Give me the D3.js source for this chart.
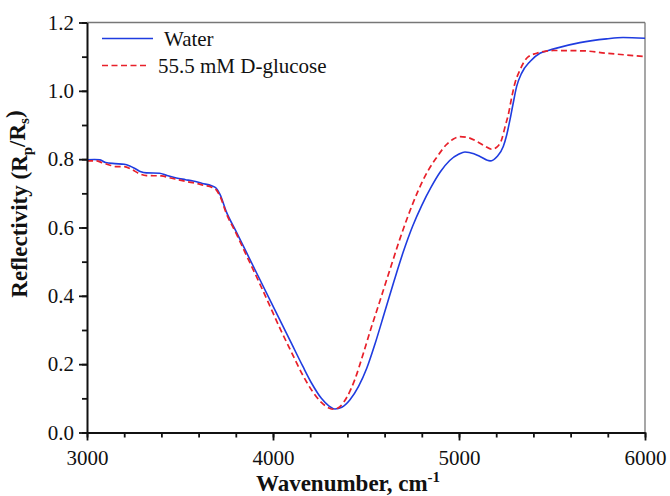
<!DOCTYPE html>
<html>
<head>
<meta charset="utf-8">
<script src="https://cdn.jsdelivr.net/npm/d3@7"></script>
<style>
  html, body { margin: 0; padding: 0; background: #fff; }
  svg { display: block; }
</style>
</head>
<body>
<svg id="chart" width="670" height="496"></svg>
<script>
// Reflectivity spectra, wavenumber (cm^-1) vs Rp/Rs
const waterWn = [3000,3040,3070,3100,3150,3200,3230,3260,3290,3320,3390,3430,3480,3530,3570,3620,3670,3695,3715,3750,3800,3860,3920,3980,4040,4100,4160,4210,4260,4300,4333,4370,4414,4460,4504,4550,4600,4650,4700,4750,4800,4850,4900,4950,5000,5032,5080,5113,5167,5205,5238,5256,5274,5290,5310,5337,5382,5435,5480,5525,5650,5793,5882,6000];
const waterR  = [0.798,0.799,0.798,0.790,0.787,0.785,0.780,0.772,0.763,0.760,0.759,0.752,0.745,0.740,0.736,0.729,0.722,0.715,0.697,0.645,0.590,0.524,0.458,0.392,0.326,0.260,0.194,0.142,0.100,0.078,0.069,0.074,0.096,0.135,0.188,0.262,0.352,0.442,0.528,0.603,0.665,0.718,0.763,0.796,0.815,0.821,0.816,0.808,0.795,0.808,0.837,0.870,0.915,0.960,1.013,1.052,1.086,1.110,1.118,1.125,1.141,1.152,1.156,1.154];

const glucoseWn = [3000,3050,3080,3120,3160,3200,3240,3280,3320,3400,3440,3490,3540,3580,3630,3670,3695,3715,3750,3800,3860,3920,3980,4040,4100,4160,4210,4260,4300,4325,4360,4400,4440,4486,4530,4567,4600,4640,4680,4720,4780,4830,4880,4933,4970,5005,5050,5095,5140,5176,5205,5229,5250,5265,5283,5301,5328,5350,5373,5418,5507,5668,5793,5900,6000];
const glucoseR  = [0.795,0.795,0.790,0.783,0.778,0.778,0.770,0.758,0.752,0.751,0.746,0.740,0.734,0.730,0.723,0.718,0.710,0.692,0.640,0.585,0.515,0.446,0.374,0.302,0.234,0.168,0.122,0.088,0.072,0.068,0.076,0.106,0.155,0.232,0.310,0.372,0.428,0.496,0.563,0.625,0.707,0.763,0.805,0.843,0.859,0.866,0.863,0.852,0.838,0.829,0.836,0.857,0.900,0.930,0.980,1.023,1.061,1.085,1.100,1.110,1.118,1.117,1.110,1.105,1.100];

const xTicks = [3000, 4000, 5000, 6000];
const yTicks = [0.0, 0.2, 0.4, 0.6, 0.8, 1.0, 1.2];
const seriesNames = ["Water", "55.5 mM D-glucose"];

const FONT = "'Liberation Serif', 'Times New Roman', Times, serif";

const margin = {top: 22.5, right: 25, bottom: 63.5, left: 87};
const W = 670, H = 496;
const iw = W - margin.left - margin.right;
const ih = H - margin.top - margin.bottom;

const svg = d3.select("#chart");
const g = svg.append("g").attr("transform", `translate(${margin.left},${margin.top})`);

const x = d3.scaleLinear().domain([3000, 6000]).range([0, iw]);
const y = d3.scaleLinear().domain([0, 1.2]).range([ih, 0]);

// frame: lighter top/right edges
g.append("line").attr("x1", 0).attr("x2", iw).attr("y1", 0).attr("y2", 0)
  .attr("stroke", "#777").attr("stroke-width", 1.3);
g.append("line").attr("x1", iw).attr("x2", iw).attr("y1", 0).attr("y2", ih)
  .attr("stroke", "#777").attr("stroke-width", 1.3);

// curves
const line = d3.line().x(d => x(d[0])).y(d => y(d[1])).curve(d3.curveMonotoneX);
const water = waterWn.map((w, i) => [w, waterR[i]]);
const glucose = glucoseWn.map((w, i) => [w, glucoseR[i]]);

g.append("path").datum(water).attr("d", line)
  .attr("fill", "none").attr("stroke", "#1f3ce0").attr("stroke-width", 1.6);
g.append("path").datum(glucose).attr("d", line)
  .attr("fill", "none").attr("stroke", "#e8202a").attr("stroke-width", 1.7)
  .attr("stroke-dasharray", "6,3.5");

// axes
function styleAxis(sel) {
  sel.attr("font-family", null);
  sel.select(".domain").attr("stroke", "#111").attr("stroke-width", 2);
  sel.selectAll(".tick line").attr("stroke", "#111").attr("stroke-width", 1.8);
  sel.selectAll(".tick text")
    .style("font-family", FONT).style("font-size", "21px").attr("fill", "#111");
}

// minor ticks
function minor(s) {
  s.select(".domain").remove();
  s.selectAll(".tick line").attr("stroke", "#111").attr("stroke-width", 1.8);
}
g.append("g").attr("transform", `translate(0,${ih})`)
  .call(d3.axisBottom(x).tickValues(d3.range(3000, 6001, 200)).tickSize(5).tickFormat(""))
  .call(minor);
g.append("g")
  .call(d3.axisLeft(y).tickValues(d3.range(0, 1.21, 0.1)).tickSize(5).tickFormat(""))
  .call(minor);

const xAxis = g.append("g").attr("transform", `translate(0,${ih})`)
  .call(d3.axisBottom(x).tickValues(xTicks).tickSize(8).tickSizeOuter(0).tickPadding(5).tickFormat(d3.format("d")))
  .call(styleAxis);
xAxis.selectAll(".tick text").attr("dy", "0.92em");

g.append("g")
  .call(d3.axisLeft(y).tickValues(yTicks).tickSize(8).tickSizeOuter(0).tickPadding(5).tickFormat(d3.format(".1f")))
  .call(styleAxis);

// axis titles
const xt = svg.append("text")
  .attr("x", 348).attr("y", 491)
  .attr("text-anchor", "middle")
  .style("font-family", FONT).style("font-size", "23px").style("font-weight", "bold").attr("fill", "#111");
xt.append("tspan").text("Wavenumber, cm");
xt.append("tspan").attr("dy", "-0.6em").style("font-size", "15px").text("-1");

const yt = svg.append("text")
  .attr("transform", "translate(27,204) rotate(-90)")
  .attr("text-anchor", "middle")
  .style("font-family", FONT).style("font-size", "23px").style("font-weight", "bold").attr("fill", "#111");
yt.append("tspan").text("Reflectivity (R");
yt.append("tspan").attr("dy", "0.3em").style("font-size", "15px").text("p");
yt.append("tspan").attr("dy", "-0.3em").text("/R");
yt.append("tspan").attr("dy", "0.3em").style("font-size", "15px").text("s");
yt.append("tspan").attr("dy", "-0.3em").text(")");

// legend
const legend = svg.append("g");
const legendStyles = [
  {stroke: "#1f3ce0", dash: null, width: 1.6, x2: 153, tx: 164},
  {stroke: "#e8202a", dash: "6,3.5", width: 1.7, x2: 148, tx: 158}
];
seriesNames.forEach((name, i) => {
  const ly = 38.5 + i * 27;
  const st = legendStyles[i];
  legend.append("line").attr("x1", 102).attr("x2", st.x2).attr("y1", ly).attr("y2", ly)
    .attr("stroke", st.stroke).attr("stroke-width", st.width)
    .attr("stroke-dasharray", st.dash);
  legend.append("text").attr("x", st.tx).attr("y", ly + 7)
    .style("font-family", FONT).style("font-size", "21px").attr("fill", "#111").text(name);
});
</script>
</body>
</html>
